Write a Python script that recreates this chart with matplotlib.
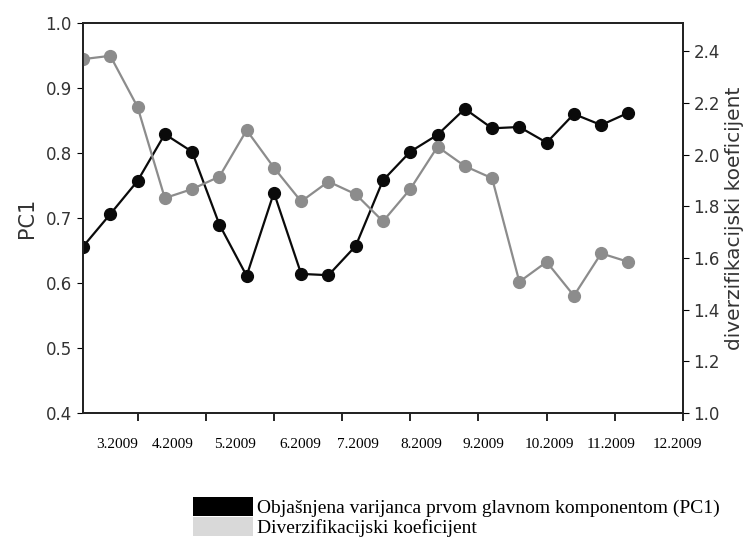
import numpy as np
import matplotlib
matplotlib.use("Agg")
import matplotlib.pyplot as plt
from matplotlib.patches import Patch

# observations (semi-monthly), index 0..20
pc1 = [0.656, 0.706, 0.757, 0.829, 0.802, 0.690, 0.611, 0.739, 0.614, 0.612, 0.657,
       0.758, 0.802, 0.828, 0.868, 0.838, 0.840, 0.816, 0.860, 0.843, 0.862]
div_coef = [2.370, 2.383, 2.185, 1.832, 1.867, 1.915, 2.095, 1.950, 1.819, 1.896, 1.847,
            1.742, 1.867, 2.031, 1.956, 1.909, 1.508, 1.585, 1.454, 1.618, 1.585]

tick_pos = [2, 4.5, 7, 9.5, 12, 14.5, 17, 19.5, 22]
month_labels = ["3.2009", "4.2009", "5.2009", "6.2009", "7.2009", "8.2009",
                "9.2009", "10.2009", "11.2009", "12.2009"]
month_label_pos = [1.25, 3.30, 5.57, 7.96, 10.08, 12.39, 14.67, 17.09, 19.36, 21.78]

legend_labels = ["Objašnjena varijanca prvom glavnom komponentom (PC1)",
                 "Diverzifikacijski koeficijent"]

x = np.arange(len(pc1))
black = "#0a0a0a"
gray = "#8c8c8c"
txt = "#333333"

fig = plt.figure(figsize=(7.48, 5.44), dpi=100)
ax = fig.add_axes([83 / 748, 1 - 413 / 544, 600 / 748, 390 / 544])
ax2 = ax.twinx()

ax.plot(x, pc1, color=black, lw=1.6, marker="o", ms=8.5)
ax2.plot(x, div_coef, color=gray, lw=1.6, marker="o", ms=8.5)

ax.set_xlim(0, 22)
ax.set_ylim(0.4, 1.0)
ax.set_yticks(np.arange(0.4, 1.01, 0.1))
ax.set_yticklabels([f"{v:.1f}" for v in np.arange(0.4, 1.01, 0.1)])
ax2.set_ylim(1.0, 2.51)
ax2.set_yticks(np.arange(1.0, 2.41, 0.2))
ax2.set_yticklabels([f"{v:.1f}" for v in np.arange(1.0, 2.41, 0.2)])

ax.set_xticks(tick_pos)
ax.set_xticklabels([])
ax.set_xticks(month_label_pos, minor=True)
ax.set_xticklabels(month_labels, minor=True, family="Liberation Serif", fontsize=11)
ax.tick_params(axis="x", which="minor", length=0, pad=18)
ax.tick_params(axis="x", which="major", length=6, width=1.2)

ax.tick_params(axis="y", labelsize=12, labelcolor=txt, length=4, pad=4)
ax2.tick_params(axis="y", labelsize=12, labelcolor=txt, length=4)

ax.set_ylabel("PC1", fontsize=15, color=txt, labelpad=6)
ax2.set_ylabel("diverzifikacijski koeficijent", fontsize=14.5, color=txt, labelpad=4)

for a in (ax, ax2):
    for s in a.spines.values():
        s.set_linewidth(1.3)
        s.set_color("#222222")

handles = [Patch(facecolor="#000000", edgecolor="none"),
           Patch(facecolor="#d9d9d9", edgecolor="none")]
fig.legend(handles, legend_labels, loc="upper left",
           bbox_to_anchor=(193 / 748, 1 - 497 / 544),
           frameon=False, borderpad=0, labelspacing=0, handlelength=3.1,
           handleheight=1.1, handletextpad=0.2, borderaxespad=0,
           prop={"family": "Liberation Serif", "size": 14})

fig.savefig("out.png", dpi=100)
